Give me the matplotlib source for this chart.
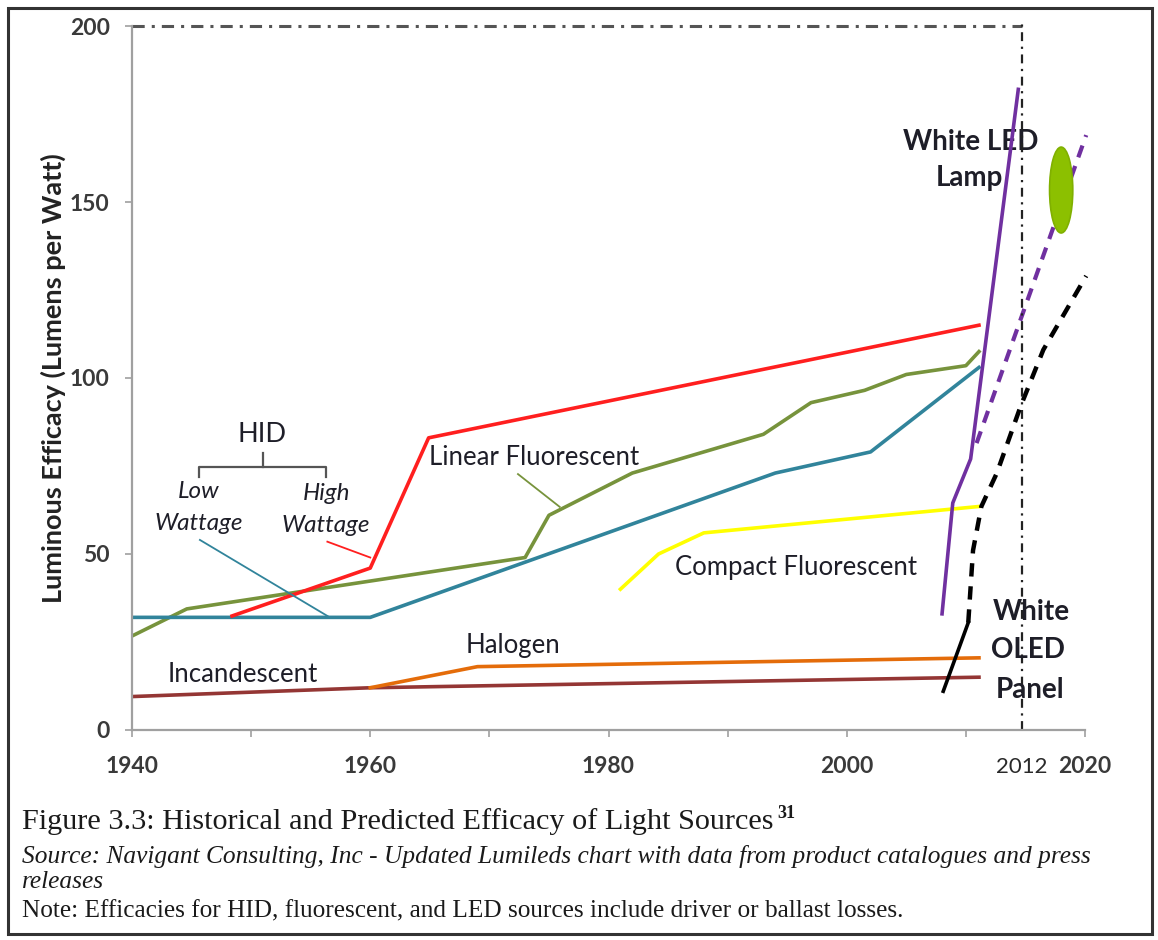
import matplotlib
matplotlib.use("Agg")
import matplotlib.pyplot as plt
from matplotlib.patches import Ellipse, Rectangle

plt.rcParams['font.family'] = ['Lato', 'DejaVu Sans']

# ---------------- data ----------------
incandescent_x = [1940, 1960, 2011.1]
incandescent_y = [9.5, 12, 15]

halogen_x = [1960, 1969, 2011.1]
halogen_y = [12, 18, 20.5]

hid_low_x = [1940, 1960, 1994, 2002, 2011.1]
hid_low_y = [32, 32, 73, 79, 103]

hid_high_x = [1948.4, 1960, 1964.9, 2011.1]
hid_high_y = [32.4, 46, 83, 115]

linear_x = [1940, 1944.6, 1973, 1975, 1982, 1993, 1997, 2001.5, 2005, 2010, 2011.1]
linear_y = [26.7, 34.4, 49, 61, 73, 84, 93, 96.5, 101, 103.5, 107.5]

cfl_x = [1981, 1984.2, 1988, 2011.1]
cfl_y = [40, 50, 56, 63.5]

led_x = [2008, 2008.9, 2010.4, 2014.4]
led_y = [33, 64.5, 77, 182]

led_fc_x = [2010.9, 2020.1]
led_fc_y = [81.5, 169]

oled_x = [2008.1, 2010.2]
oled_y = [11, 30.5]

oled_fc_x = [2010.2, 2010.6, 2011.3, 2012.6, 2014.6, 2016.5, 2020.1]
oled_fc_y = [30.5, 51, 63.5, 73, 92, 108, 129]

target_x, target_y = 2018.0, 153.4          # green ellipse (target)
year_2012_pos = 2014.7                       # vertical marker as drawn in reference

xticks = [1940, 1950, 1960, 1970, 1980, 1990, 2000, 2010, 2020]
xtick_labels = ['1940', '', '1960', '', '1980', '', '2000', '', '2020']
yticks = [0, 50, 100, 150, 200]

# ---------------- figure ----------------
fig = plt.figure(figsize=(11.58, 9.4), dpi=100)
W, H = 1158, 940
ax = fig.add_axes([132 / W, (H - 730) / H, (1085 - 132) / W, (730 - 26) / H])
ax.set_xlim(1940, 2020)
ax.set_ylim(0, 200)

for s in ['top', 'right']:
    ax.spines[s].set_visible(False)
for s in ['left', 'bottom']:
    ax.spines[s].set_color('#a0a0a0')
    ax.spines[s].set_linewidth(1.6)

ax.set_xticks(xticks)
ax.set_xticklabels(xtick_labels)
ax.set_yticks(yticks)
ax.tick_params(axis='both', direction='out', length=5, width=1.2, color='#a0a0a0',
               labelcolor='#3a3a3a', labelsize=16.5)
ax.tick_params(axis='x', pad=14)
ax.tick_params(axis='y', pad=11)
for lab in ax.get_xticklabels() + ax.get_yticklabels():
    lab.set_fontweight('bold')

ax.set_ylabel('Luminous Efficacy (Lumens per Watt)', fontsize=19.5, fontweight='bold',
              color='#222222', labelpad=3)

lw = 2.6
ax.plot(incandescent_x, incandescent_y, color='#943634', lw=lw)
ax.plot(halogen_x, halogen_y, color='#E46C0A', lw=lw)
ax.plot(linear_x, linear_y, color='#77933C', lw=lw)
ax.plot(hid_low_x, hid_low_y, color='#31849B', lw=lw)
ax.plot(hid_high_x, hid_high_y, color='#FF1F1F', lw=lw)
ax.plot(cfl_x, cfl_y, color='#FFFF00', lw=lw)
ax.plot(led_x, led_y, color='#7030A0', lw=lw, zorder=4)
ax.plot(led_fc_x, led_fc_y, color='#7030A0', lw=3, dashes=(3, 2.2), clip_on=False)
ax.plot(oled_x, oled_y, color='black', lw=lw, zorder=4)
ax.plot(oled_fc_x, oled_fc_y, color='black', lw=3.2, dashes=(3, 2.2), clip_on=False)

# reference lines (200 lm/W ceiling and 2012 marker)
ax.plot([1940, year_2012_pos], [200, 200], color='#555555', lw=2.2,
        dashes=(4, 2.3, 1, 2.3), clip_on=False)
ax.plot([year_2012_pos, year_2012_pos], [0, 200.5], color='#222222', lw=1.6,
        dashes=(4, 2.5, 1, 2.5), clip_on=False)

# green target ellipse
ax.add_patch(Ellipse((target_x, target_y), 1.95, 24.4, facecolor='#8CC000',
                     edgecolor='#80B000', lw=1.2, clip_on=False, zorder=5))

# connector lines for labels
ax.plot([1945.7, 1956.6], [54, 32], color='#31849B', lw=1.3)
ax.plot([1956.4, 1960], [53.5, 49], color='#FF1F1F', lw=1.3)
ax.plot([1972.4, 1975.9], [72.7, 63.4], color='#77933C', lw=1.3)

# HID brace
bc = '#555555'
ax.plot([1945.6, 1945.6, 1956.3, 1956.3], [71.9, 74.7, 74.7, 71.9], color=bc, lw=1.6)
ax.plot([1951.0, 1951.0], [74.7, 78.7], color=bc, lw=1.6)

tc = '#1e1e28'
lab_fs = 18.5
ax.text(1950.9, 84.0, 'HID', fontsize=19.5, ha='center', va='center', color=tc)
ax.text(1945.6, 67.8, 'Low', fontsize=17.5, style='italic', ha='center', va='center', color=tc)
ax.text(1945.6, 58.8, 'Wattage', fontsize=17.5, style='italic', ha='center', va='center', color=tc)
ax.text(1956.3, 67.3, 'High', fontsize=17.5, style='italic', ha='center', va='center', color=tc)
ax.text(1956.3, 58.2, 'Wattage', fontsize=17.5, style='italic', ha='center', va='center', color=tc)
ax.text(1964.9, 77.5, 'Linear Fluorescent', fontsize=lab_fs, ha='left', va='center', color=tc)
ax.text(1985.6, 46.3, 'Compact Fluorescent', fontsize=lab_fs, ha='left', va='center', color=tc)
ax.text(1968.0, 23.9, 'Halogen', fontsize=lab_fs, ha='left', va='center', color=tc)
ax.text(1943.0, 15.7, 'Incandescent', fontsize=lab_fs, ha='left', va='center', color=tc)
ax.text(2010.4, 167.0, 'White LED', fontsize=20, fontweight='bold', ha='center', va='center',
        color=tc, zorder=1.5)
ax.text(2010.3, 156.8, 'Lamp', fontsize=20, fontweight='bold', ha='center', va='center',
        color=tc, zorder=1.5)
ax.text(2015.5, 33.5, 'White', fontsize=20, fontweight='bold', ha='center', va='center', color=tc)
ax.text(2015.2, 22.7, 'OLED', fontsize=20, fontweight='bold', ha='center', va='center', color=tc)
ax.text(2015.4, 11.4, 'Panel', fontsize=20, fontweight='bold', ha='center', va='center', color=tc)

# 2012 label under the marker
ax.text(year_2012_pos, -10.6, '2012', fontsize=16, ha='center', va='center', color='#2a2a2a')

# caption
serif = ['Liberation Serif', 'DejaVu Serif']
fig.text(22 / W, 1 - 822 / H, 'Figure 3.3: Historical and Predicted Efficacy of Light Sources',
         fontsize=21.8, family=serif, ha='left', va='center', color='#1a1a1a')
fig.text(777 / W, 1 - 814 / H, '31', fontsize=13, family=serif, fontweight='bold',
         ha='left', va='center', color='#1a1a1a')
fig.text(22 / W, 1 - 857 / H,
         'Source: Navigant Consulting, Inc - Updated Lumileds chart with data from product catalogues and press',
         fontsize=18.3, family=serif, style='italic', ha='left', va='center', color='#1a1a1a')
fig.text(22 / W, 1 - 882 / H, 'releases', fontsize=18.3, family=serif, style='italic',
         ha='left', va='center', color='#1a1a1a')
fig.text(22 / W, 1 - 911 / H,
         'Note: Efficacies for HID, fluorescent, and LED sources include driver or ballast losses.',
         fontsize=18.2, family=serif, ha='left', va='center', color='#1a1a1a')

# outer frame
fig.patches.append(Rectangle((8 / W, 1 - 934 / H), (1152 - 8) / W, (934 - 8) / H,
                             transform=fig.transFigure, fill=False, edgecolor='#333333',
                             lw=2.2))

fig.savefig('out.png', dpi=100)
